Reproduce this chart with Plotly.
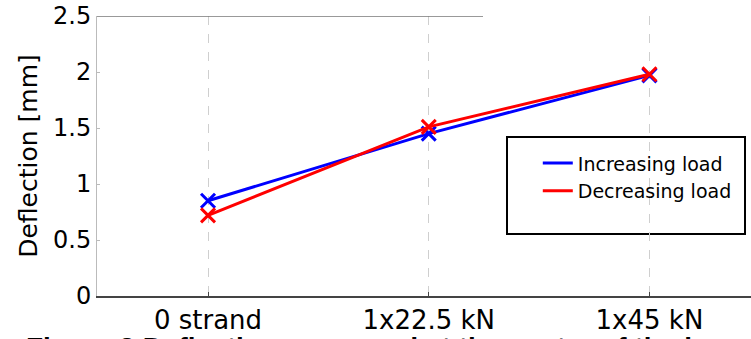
import plotly.graph_objects as go

categories = ["0 strand", "1x22.5 kN", "1x45 kN"]
increasing_load = [0.85, 1.45, 1.97]
decreasing_load = [0.72, 1.51, 1.98]
y_ticks = [0, 0.5, 1, 1.5, 2, 2.5]
y_tick_labels = ["0", "0.5", "1", "1.5", "2", "2.5"]
caption = "Figure 3 Deflection measured at the center of the beam"

FONT = "DejaVu Sans"
xpos = list(range(len(categories)))

fig = go.Figure()
for name, vals, col in [("Increasing load", increasing_load, "#0000FF"),
                        ("Decreasing load", decreasing_load, "#FF0000")]:
    fig.add_trace(go.Scatter(
        x=xpos, y=vals, name=name, mode="lines",
        line=dict(color=col, width=3),
    ))
    fig.add_trace(go.Scatter(
        x=xpos, y=vals, name=name, mode="markers", showlegend=False,
        marker=dict(symbol="x-thin", size=14, line=dict(color=col, width=3)),
    ))

fig.update_layout(
    width=751, height=339,
    margin=dict(l=97, r=0, t=16, b=43),
    plot_bgcolor="white", paper_bgcolor="white",
    font=dict(family=FONT, color="black"),
    showlegend=True,
    legend=dict(
        x=0.674, y=0.542, xanchor="left", yanchor="top",
        bgcolor="rgba(0,0,0,0)", borderwidth=0,
        font=dict(size=19, family=FONT),
        itemwidth=30, tracegroupgap=0,
    ),
    xaxis=dict(
        range=[-0.503, 2.46], automargin=False,
        tickmode="array", tickvals=xpos, ticktext=categories,
        tickfont=dict(size=26, family=FONT),
        showgrid=True, gridcolor="#cfcfcf", griddash="dash", gridwidth=1,
        showline=True, linecolor="#444444", linewidth=1.5,
        ticks="inside", ticklen=4, tickcolor="#444444",
        ticklabeloverflow="allow",
        zeroline=False,
    ),
    yaxis=dict(
        range=[0, 2.5], automargin=False,
        tickmode="array", tickvals=y_ticks, ticktext=y_tick_labels,
        tickfont=dict(size=24, family=FONT),
        title=dict(text="Deflection [mm]", font=dict(size=25, family=FONT), standoff=8),
        showgrid=False,
        showline=True, linecolor="#bbbbbb", linewidth=1,
        ticks="inside", ticklen=3, tickcolor="#bbbbbb",
        ticklabelstandoff=0, ticklabeloverflow="allow",
        zeroline=False,
    ),
)

# top border (partial) and legend box
fig.add_shape(type="line", xref="paper", yref="y", x0=0, x1=(483 - 97) / 654, y0=2.5, y1=2.5,
              line=dict(color="#777777", width=1.5))
fig.add_shape(type="rect", xref="paper", yref="paper",
              x0=(507 - 97) / 654, x1=(745 - 97) / 654,
              y0=(296 - 234) / 280, y1=(296 - 137) / 280,
              line=dict(color="black", width=2), fillcolor="white", layer="below")

fig.add_annotation(
    text="<b>" + caption + "</b>", xref="paper", yref="paper",
    x=(24 - 97) / 654, y=(296 - 330) / 280, xanchor="left", yanchor="top",
    showarrow=False, font=dict(size=28, family="Liberation Sans", color="black"),
)

fig.write_html(
    "out.html",
    config={"displayModeBar": False},
    post_script="document.body.style.margin='0';document.body.style.overflow='hidden';",
)
